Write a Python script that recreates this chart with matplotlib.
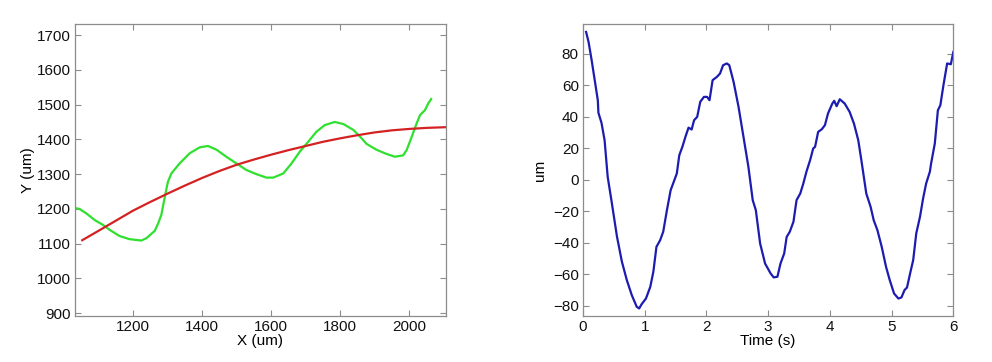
import matplotlib
matplotlib.use("Agg")
import matplotlib.pyplot as plt

plt.rcParams['font.family'] = ['Liberation Sans', 'DejaVu Sans']

# left panel: measured track (green) and fitted curve (red)
track_x = [1034, 1045, 1065, 1089, 1113, 1132, 1161, 1190, 1224, 1239, 1263, 1273, 1282,
           1292, 1301, 1311, 1335, 1364, 1393, 1417, 1442, 1470, 1499, 1528, 1557, 1586,
           1606, 1635, 1659, 1683, 1707, 1731, 1755, 1784, 1809, 1838, 1857, 1876, 1905,
           1934, 1958, 1982, 1992, 2007, 2021, 2031, 2045, 2055, 2063]
track_y = [1202, 1200, 1187, 1168, 1154, 1140, 1122, 1113, 1109, 1116, 1137, 1159, 1183,
           1235, 1278, 1302, 1331, 1360, 1377, 1381, 1370, 1350, 1331, 1312, 1300, 1290,
           1290, 1302, 1331, 1365, 1393, 1422, 1441, 1450, 1444, 1427, 1408, 1387, 1370,
           1358, 1350, 1354, 1369, 1408, 1446, 1470, 1484, 1504, 1516]
fit_x = [1053, 1100, 1150, 1200, 1250, 1300, 1350, 1400, 1450, 1500, 1550, 1600, 1650,
         1700, 1750, 1800, 1850, 1900, 1950, 2000, 2050, 2106]
fit_y = [1110, 1137, 1166, 1195, 1220, 1244, 1267, 1289, 1309, 1327, 1342, 1356, 1369,
         1381, 1393, 1403, 1412, 1420, 1426, 1430, 1433, 1435]

# right panel: displacement vs time
time_s = [0.05, 0.09, 0.14, 0.19, 0.24, 0.25, 0.30, 0.35, 0.40, 0.46, 0.55, 0.63, 0.71,
          0.79, 0.87, 0.91, 0.95, 1.02, 1.09, 1.14, 1.19, 1.25, 1.30, 1.36, 1.42, 1.47,
          1.52, 1.56, 1.61, 1.66, 1.71, 1.76, 1.80, 1.85, 1.90, 1.96, 2.01, 2.05, 2.10,
          2.17, 2.22, 2.27, 2.33, 2.37, 2.44, 2.52, 2.60, 2.68, 2.75, 2.80, 2.87, 2.95,
          3.04, 3.09, 3.15, 3.20, 3.26, 3.30, 3.35, 3.41, 3.46, 3.52, 3.57, 3.62, 3.68,
          3.73, 3.76, 3.81, 3.87, 3.92, 3.97, 4.04, 4.07, 4.11, 4.16, 4.24, 4.32, 4.39,
          4.46, 4.51, 4.59, 4.66, 4.71, 4.77, 4.84, 4.91, 4.97, 5.04, 5.11, 5.16, 5.21,
          5.25, 5.30, 5.35, 5.40, 5.46, 5.51, 5.56, 5.62, 5.64, 5.70, 5.75, 5.79, 5.84,
          5.90, 5.96, 6.00]
disp_um = [93.7, 87.4, 75.8, 63.1, 50.4, 42.4, 36.0, 25.0, 1.8, -13.0, -36.0, -52.0, -63.7,
           -73.2, -80.6, -81.7, -79.0, -75.4, -68.0, -58.4, -42.6, -38.4, -33.0, -19.3,
           -6.7, -1.4, 3.9, 15.5, 20.8, 27.2, 33.0, 31.8, 37.7, 39.8, 49.4, 52.5, 52.5,
           50.4, 63.1, 65.2, 67.3, 72.6, 73.7, 72.6, 62.0, 46.2, 27.2, 8.1, -13.0, -19.3,
           -40.5, -53.2, -59.5, -62.0, -61.6, -53.2, -46.8, -36.3, -33.1, -26.7, -13.0,
           -8.8, -2.4, 5.0, 12.4, 19.8, 20.8, 30.3, 32.0, 34.6, 42.0, 48.3, 50.0, 46.6,
           51.0, 48.3, 43.0, 35.6, 25.0, 12.4, -8.8, -17.2, -25.7, -32.0, -42.6, -55.3,
           -63.7, -72.2, -75.4, -74.7, -70.0, -68.4, -59.5, -51.0, -34.0, -23.6, -12.0,
           -2.4, 5.0, 10.2, 22.9, 44.0, 47.2, 59.9, 73.7, 73.2, 81.0]


def style_axes(ax):
    for s in ax.spines.values():
        s.set_color('#8c8c8c')
        s.set_linewidth(0.9)
    ax.tick_params(direction='in', top=True, right=True, length=4,
                   color='#8c8c8c', labelsize=11, labelcolor='#111111', pad=3)


fig = plt.figure(figsize=(9.92, 3.62), dpi=100)

ax1 = fig.add_axes([0.0756, 0.127, 0.374, 0.807])
ax1.plot(track_x, track_y, color='#2fe02f', lw=1.6)
ax1.plot(fit_x, fit_y, color='#d42222', lw=1.6)
ax1.set_xlim(1032, 2106)
ax1.set_ylim(892, 1732)
ax1.set_xticks([1200, 1400, 1600, 1800, 2000])
ax1.set_yticks(range(900, 1701, 100))
ax1.set_xlabel('X (um)', fontsize=11, labelpad=0)
ax1.set_ylabel('Y (um)', fontsize=11, labelpad=1)
style_axes(ax1)

ax2 = fig.add_axes([0.5877, 0.127, 0.3733, 0.807])
ax2.plot(time_s, disp_um, color='#1c1cb0', lw=1.6)
ax2.set_xlim(0, 6)
ax2.set_ylim(-86.5, 98.8)
ax2.set_xticks(range(0, 7))
ax2.set_yticks(range(-80, 81, 20))
ax2.set_xlabel('Time (s)', fontsize=11, labelpad=0)
ax2.set_ylabel('um', fontsize=11, labelpad=4)
style_axes(ax2)

fig.savefig('out.png', dpi=100)
